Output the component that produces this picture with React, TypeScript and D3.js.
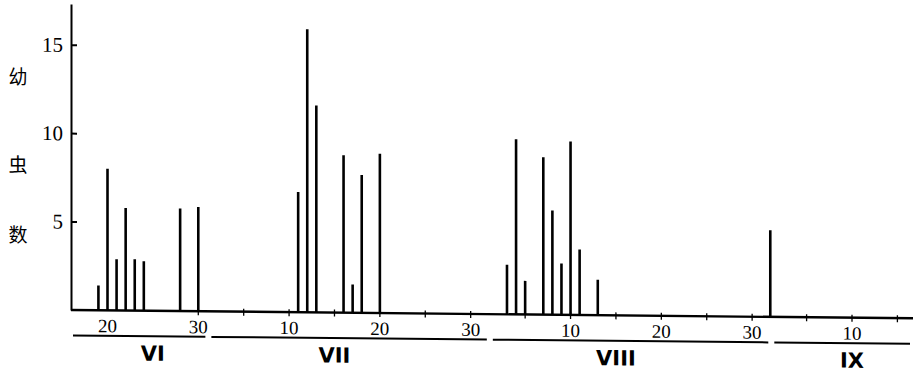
import React, { useEffect, useRef } from 'react';
import * as d3 from 'd3';

// larvae counts, by month and day
const juneDays = [19, 20, 21, 22, 23, 24, 28, 30];
const juneCounts = [1.4, 8.0, 2.9, 5.8, 2.9, 2.8, 5.8, 5.9];
const julyDays = [11, 12, 13, 16, 17, 18, 20];
const julyCounts = [6.8, 16.0, 11.7, 8.9, 1.6, 7.8, 9.0];
const augustDays = [3, 4, 5, 7, 8, 9, 10, 11, 13];
const augustCounts = [2.8, 9.9, 1.9, 8.9, 5.9, 2.9, 9.8, 3.7, 2.0];
const septemberDays = [1];
const septemberCounts = [4.9];

const yTicks = [5, 10, 15];
// [month, day] of the numbered x labels
const xLabelDates = [[6, 20], [6, 30], [7, 10], [7, 20], [7, 30], [8, 10], [8, 20], [8, 30], [9, 10]];
const monthNames = ['VI', 'VII', 'VIII', 'IX'];
const monthNumbers = [6, 7, 8, 9];
const monthLabelDays = [25, 15, 15, 10];
const yTitle = ['幼', '虫', '数'];

const day = (m: number, d: number) => new Date(Date.UTC(1960, m - 1, d));

const App = () => {
    const ref = useRef<SVGSVGElement | null>(null);

    useEffect(() => {
        const width = 913;
        const height = 373;
        const origin = { x: 71, y: 310 };

        const svg = d3.select(ref.current);
        svg.selectAll('*').remove();
        svg.attr('width', width).attr('height', height);

        // y title, one character per row
        const titleY = [77, 165, 235];
        svg.append('g')
            .selectAll('text')
            .data(yTitle)
            .join('text')
            .attr('x', 18)
            .attr('y', (_d, i) => titleY[i])
            .attr('dy', '0.36em')
            .attr('text-anchor', 'middle')
            .style('font-family', '"Noto Sans CJK SC", sans-serif')
            .style('font-size', '19px')
            .text((d) => d);

        // the scanned page is slightly tilted: baseline drops to the right
        const g = svg.append('g')
            .attr('transform', `translate(${origin.x},${origin.y}) skewY(0.565)`);

        const x = d3.scaleUtc()
            .domain([day(6, 20), day(9, 10)])
            .range([36.5, 781]);
        const y = d3.scaleLinear()
            .domain([0, 17.3])
            .range([0, -306]);

        const bars = [
            ...juneDays.map((d, i) => ({ date: day(6, d), value: juneCounts[i] })),
            ...julyDays.map((d, i) => ({ date: day(7, d), value: julyCounts[i] })),
            ...augustDays.map((d, i) => ({ date: day(8, d), value: augustCounts[i] })),
            ...septemberDays.map((d, i) => ({ date: day(9, d), value: septemberCounts[i] })),
        ];

        // baseline
        g.append('line')
            .attr('x1', 0)
            .attr('x2', width - origin.x)
            .attr('y1', 0)
            .attr('y2', 0)
            .attr('stroke', '#000')
            .attr('stroke-width', 2.4);

        // small ticks every 5 days
        const minor: Date[] = [];
        monthNumbers.forEach((m) => {
            [5, 10, 15, 20, 25, 30].forEach((d) => {
                const dt = day(m, d);
                if (dt >= day(6, 30) && dt <= day(9, 15)) minor.push(dt);
            });
        });
        g.append('g')
            .selectAll('line')
            .data(minor)
            .join('line')
            .attr('x1', (d) => x(d))
            .attr('x2', (d) => x(d))
            .attr('y1', -3)
            .attr('y2', 4)
            .attr('stroke', '#000')
            .attr('stroke-width', 1.3);

        // bars
        g.append('g')
            .selectAll('line')
            .data(bars)
            .join('line')
            .attr('x1', (d) => x(d.date))
            .attr('x2', (d) => x(d.date))
            .attr('y1', y(0))
            .attr('y2', (d) => y(d.value))
            .attr('stroke', '#000')
            .attr('stroke-width', 2.6);

        // y axis
        const yAxis = d3.axisLeft(y)
            .tickValues(yTicks)
            .tickSize(-6)
            .tickSizeOuter(0)
            .tickPadding(8)
            .tickFormat((d) => `${d}`);
        const yg = g.append('g').call(yAxis);
        yg.select('.domain').attr('stroke-width', 2);
        yg.selectAll('.tick line').attr('stroke-width', 2);
        yg.selectAll('text')
            .style('font-family', '"Liberation Serif", serif')
            .style('font-size', '21px');

        // day labels
        g.append('g')
            .selectAll('text')
            .data(xLabelDates)
            .join('text')
            .attr('x', (d) => x(day(d[0], d[1])))
            .attr('y', 22)
            .attr('text-anchor', 'middle')
            .style('font-family', '"Liberation Serif", serif')
            .style('font-size', '19px')
            .text((d) => d[1]);

        // month underlines
        const right = width - origin.x - 3;
        g.append('g')
            .selectAll('line')
            .data(monthNumbers)
            .join('line')
            .attr('x1', (m, i) => (i === 0 ? 2 : x(day(m, 1)) + 4))
            .attr('x2', (m, i) => (i === monthNumbers.length - 1 ? right : x(day(m + 1, 1)) - 2))
            .attr('y1', 25.5)
            .attr('y2', 25.5)
            .attr('stroke', '#000')
            .attr('stroke-width', 2);

        // month names
        g.append('g')
            .selectAll('text')
            .data(monthNames)
            .join('text')
            .attr('x', (_d, i) => x(day(monthNumbers[i], monthLabelDays[i])))
            .attr('y', 50)
            .attr('text-anchor', 'middle')
            .style('font-family', '"DejaVu Sans", sans-serif')
            .style('font-weight', 'bold')
            .style('font-size', '21px')
            .text((d) => d);
    }, []);

    return (
        <svg ref={ref} style={{ position: 'absolute', left: 0, top: 0, background: '#fff' }} />
    );
};

export default App;
